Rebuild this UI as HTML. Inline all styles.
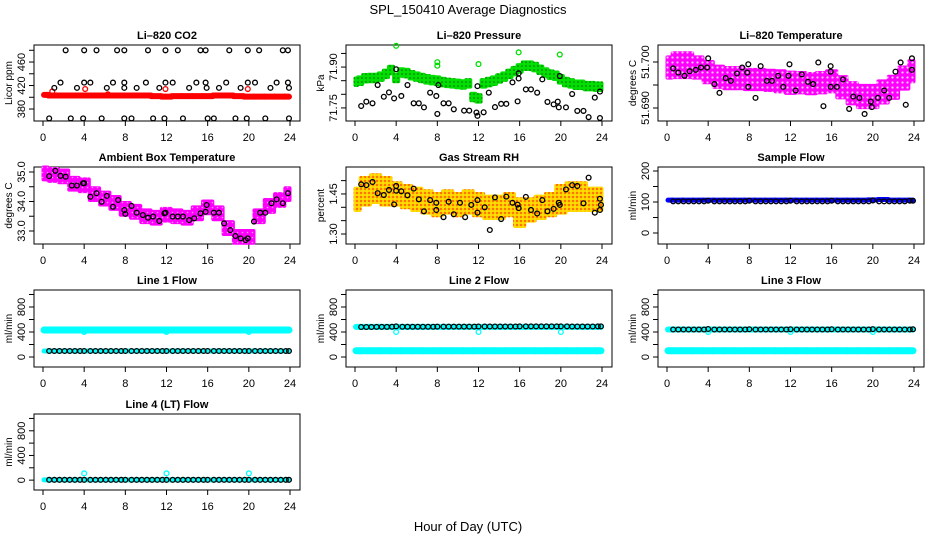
<!DOCTYPE html>
<html><head><meta charset="utf-8">
<style>
html,body{margin:0;padding:0;background:#fff;}
svg{display:block;font-family:"Liberation Sans",sans-serif;}
</style></head>
<body>
<svg id="chart" width="936" height="540" viewBox="0 0 936 540">
<defs>
<pattern id="patGreen" width="4" height="4" patternUnits="userSpaceOnUse"><rect width="4" height="4" fill="#00e000"/><circle cx="2" cy="2" r="0.8" fill="#006000"/></pattern>
<pattern id="patMag" width="5" height="5" patternUnits="userSpaceOnUse"><rect width="5" height="5" fill="#ff00ff"/><circle cx="2.5" cy="2.5" r="1.1" fill="#ffccff"/></pattern>
<pattern id="patMag2" width="5" height="5" patternUnits="userSpaceOnUse"><rect width="5" height="5" fill="#ff00ff"/><circle cx="2.5" cy="2.5" r="0.8" fill="#ff99ff"/></pattern>
<pattern id="patRH" width="4" height="4" patternUnits="userSpaceOnUse"><rect width="4" height="4" fill="#ffd000"/><circle cx="1" cy="1" r="0.9" fill="#ff3000"/><circle cx="3" cy="3" r="0.8" fill="#ffee00"/></pattern>
</defs>
<text x="468" y="14" text-anchor="middle" font-size="13">SPL_150410  Average Diagnostics</text>
<text x="468" y="531" text-anchor="middle" font-size="13">Hour of Day (UTC)</text>
</svg>
<script>
// ---------- data ----------
const xTicks = [0,4,8,12,16,20,24];
const halfHours = [0.6,1.1,1.6,2.1,2.6,3.1,3.6,4.0,4.6,5.1,5.6,6.1,6.6,7.1,7.6,8.0,8.6,9.1,9.6,10.1,10.6,11.1,11.6,12.0,12.6,13.1,13.6,14.1,14.6,15.1,15.6,16.0,16.6,17.1,17.6,18.1,18.6,19.1,19.6,20.0,20.6,21.1,21.6,22.1,22.6,23.1,23.6,23.9];
const hourly = [0,1,2,3,4,5,6,7,8,9,10,11,12,13,14,15,16,17,18,19,20,21,22,23,24];

const co2Hours = [2.2,4.0,5.2,7.2,7.9,10.2,11.9,13.1,15.3,15.8,18.1,19.9,21.0,23.3,23.8, 1.7,4.0,4.6,6.8,7.9,10.0,11.9,12.6,14.9,15.8,17.8,19.9,20.6,22.7,23.8, 1.1,3.3,6.2,7.9,9.1,11.3,14.2,15.9,17.1,19.2,22.1,23.9, 0.6,2.7,3.9,5.7,7.9,8.6,10.7,11.8,13.6,16.0,16.6,18.7,19.8,21.6,23.9];
const co2Values = [480,480,480,480,480,480,480,480,480,480,480,480,480,480,480, 425,425,425,425,425,425,425,425,425,425,425,425,425,425,425, 416,416,416,416,416,416,416,416,416,416,416,416, 364,364,364,364,364,364,364,364,364,364,364,364,364,364,364];
const co2Red = [404,403,403,403,403,403,403,403,403,403,403,402,401,402,402,402,402,403,403,402,401,401,401,401,401];
const co2RedSpikeH = [0.9,4.1,6.3,11.9,19.9];
const co2RedSpikeV = [410,414,405,414,414];

const presHours = [0.6,1.1,1.7,2.2,2.8,3.3,3.8,4.0,4.5,5.1,5.7,6.2,6.7,7.3,7.9,8.1,8.0,8.6,9.1,9.6,10.6,11.1,11.8,11.9,11.9,12.5,13.0,13.6,14.2,14.7,15.3,15.8,15.9,15.9,16.6,17.1,17.7,18.2,18.7,19.3,19.7,19.9,19.8,20.5,21.1,21.6,22.2,22.7,23.3,23.8,23.8];
const presValues = [71.757,71.773,71.767,71.834,71.791,71.807,71.785,71.892,71.794,71.834,71.767,71.767,71.752,71.806,71.794,71.834,71.728,71.767,71.767,71.745,71.740,71.740,71.733,71.721,71.830,71.734,71.806,71.753,71.765,71.765,71.844,71.774,71.858,71.877,71.818,71.818,71.806,71.855,71.772,71.763,71.773,71.867,71.752,71.752,71.801,71.739,71.739,71.716,71.788,71.810,71.713];
const presGreenH = [0,0.5,1,1.5,2,2.5,3,3.5,4,4.5,5,5.5,6,6.5,7,7.5,8,8.5,9,9.5,10,10.5,11,11.5,12,12.5,13,13.5,14,14.5,15,15.5,16,16.5,17,17.5,18,18.5,19,19.5,20,20.5,21,21.5,22,22.5,23,23.5,24];
const presGreen = [71.846,71.850,71.859,71.860,71.860,71.865,71.875,71.889,71.860,71.880,71.878,71.870,71.865,71.860,71.855,71.852,71.850,71.845,71.842,71.840,71.838,71.836,71.840,71.790,71.785,71.840,71.845,71.850,71.858,71.865,71.875,71.885,71.895,71.905,71.905,71.900,71.890,71.880,71.872,71.868,71.855,71.845,71.840,71.835,71.835,71.830,71.830,71.828,71.828];
const presGreenOutH = [4.0,8.0,8.0,12.0,15.9,19.9];
const presGreenOutV = [71.978,71.918,71.905,71.911,71.954,71.946];

const tempHours = [0.6,1.1,1.7,2.2,2.8,3.3,3.9,4.0,4.6,5.1,5.7,6.2,6.8,7.3,7.8,7.9,7.9,8.6,9.1,9.7,10.2,10.8,11.3,11.8,11.9,12.5,13.1,13.7,14.2,14.7,15.2,15.9,15.9,15.9,16.5,17.1,17.7,18.1,18.7,19.2,19.8,19.9,20.5,21.1,21.6,22.2,22.7,23.2,23.8,23.8];
const tempValues = [51.6986,51.6977,51.6970,51.6980,51.6983,51.6988,51.6988,51.7008,51.6952,51.6933,51.6965,51.6959,51.6975,51.6988,51.6977,51.6995,51.6946,51.6922,51.6991,51.6959,51.6959,51.6970,51.6946,51.6970,51.6995,51.6938,51.6973,51.6957,51.6952,51.6999,51.6904,51.6991,51.6979,51.6946,51.6946,51.6962,51.6898,51.6925,51.6922,51.6887,51.6914,51.6902,51.6922,51.6938,51.6922,51.6979,51.6999,51.6907,51.7008,51.6983];
const tempMag = [51.6988,51.6993,51.6993,51.6988,51.6978,51.6968,51.6965,51.6965,51.6962,51.6962,51.6960,51.6958,51.6955,51.6955,51.6953,51.6955,51.6958,51.6945,51.6932,51.6925,51.6925,51.6935,51.6945,51.6965,51.6980];
const tempSpread = [0.0022,0.0026,0.0026,0.0022,0.0022,0.0022,0.0022,0.0022,0.0021,0.0021,0.0021,0.0022,0.0022,0.0021,0.0021,0.0021,0.0022,0.0022,0.0022,0.0023,0.0023,0.0023,0.0023,0.0023,0.0022];

const ambHours = [0.6,1.2,1.7,2.2,2.8,3.3,3.9,4.0,4.6,5.2,5.7,6.2,6.8,7.3,7.9,8.0,8.6,9.1,9.7,10.2,10.7,11.3,11.8,11.9,12.6,13.1,13.6,14.2,14.7,15.3,15.8,15.9,16.6,17.1,17.6,18.2,18.7,19.2,19.7,19.9,20.5,21.1,21.6,22.2,22.7,23.3,23.8];
const ambValues = [34.86,35.04,34.87,34.84,34.54,34.54,34.62,34.62,34.16,34.28,33.99,34.19,33.82,34.05,33.71,33.58,33.85,33.62,33.54,33.45,33.49,33.34,33.60,33.62,33.49,33.49,33.49,33.37,33.43,33.60,33.65,33.88,33.62,33.62,33.26,33.03,32.83,32.75,32.69,32.75,33.32,33.62,33.62,33.94,34.07,33.94,34.28];
const ambMag = [34.95,34.90,34.85,34.60,34.55,34.25,34.10,33.95,33.75,33.65,33.50,33.45,33.55,33.50,33.45,33.60,33.80,33.60,33.10,32.80,32.80,33.50,33.85,34.05,34.25];

const rhHours = [0.6,1.1,1.7,2.2,2.8,3.3,3.8,4.0,4.0,4.5,5.1,5.7,6.2,6.7,7.3,7.9,7.9,8.6,9.1,9.6,10.2,10.7,11.3,11.9,11.9,12.6,13.1,13.6,14.2,14.7,15.3,15.8,15.9,16.6,17.1,17.7,18.2,18.7,19.3,19.8,19.9,20.5,21.1,21.6,22.2,22.7,23.3,23.8,23.8,23.9];
const rhValues = [1.486,1.483,1.495,1.453,1.446,1.465,1.411,1.480,1.462,1.460,1.445,1.470,1.430,1.385,1.427,1.417,1.390,1.363,1.421,1.374,1.417,1.363,1.409,1.427,1.380,1.400,1.315,1.437,1.356,1.440,1.417,1.410,1.397,1.439,1.390,1.377,1.427,1.385,1.394,1.417,1.409,1.467,1.483,1.480,1.415,1.511,1.380,1.432,1.390,1.409];
const rhBand = [1.43,1.46,1.47,1.46,1.45,1.44,1.43,1.42,1.41,1.42,1.41,1.42,1.41,1.40,1.40,1.41,1.38,1.39,1.40,1.41,1.43,1.44,1.44,1.43,1.43];
const rhSpread = [0.04,0.05,0.05,0.05,0.04,0.04,0.04,0.04,0.04,0.04,0.04,0.04,0.04,0.04,0.04,0.04,0.05,0.04,0.04,0.04,0.05,0.05,0.05,0.04,0.04];

const sampleBlue = [106,106,106,106,106,106,106,106,106,106,106,106,106,106,106,106,106,106,106,106,107,108,106,106,106];
const sampleBlack = [102,102,102,102,102,102,102,104,102,102,102,102,102,102,102,104,102,102,102,102,102,102,102,104,102,102,102,102,102,102,102,104,102,102,102,102,102,102,102,105,102,102,102,102,102,102,104,104];

const line1High = [432,432,432,432,432,432,432,432,432,432,432,432,432,432,432,432,432,432,432,432,432,432,432,432,432];
const line1Low = [96,96,96,96,96,96,96,96,96,96,96,96,96,96,96,96,96,96,96,96,96,96,96,96,96];
const line1Black = [96,96,96,96,96,96,96,96,96,96,96,96,96,96,96,96,96,96,96,96,96,96,96,96,96,96,96,96,96,96,96,96,96,96,96,96,96,96,96,96,96,96,96,96,96,96,96,96];
const line2High = [482,482,482,482,482,482,482,482,482,482,482,482,482,482,482,482,482,482,482,482,482,482,482,482,482];
const line2Low = [100,100,100,100,100,100,100,100,100,100,100,100,100,100,100,100,100,100,100,100,100,100,100,100,100];
const line2Black = [480,480,480,482,482,482,484,490,484,484,484,484,484,484,484,486,486,486,486,486,486,486,486,488,488,488,488,488,488,488,488,490,490,490,490,490,490,490,490,490,490,488,488,488,488,488,490,490];
const line3High = [440,440,440,440,440,440,440,440,440,440,440,440,440,440,440,440,440,440,440,440,440,440,440,440,440];
const line3Low = [100,100,100,100,100,100,100,100,100,100,100,100,100,100,100,100,100,100,100,100,100,100,100,100,100];
const line3Black = [440,440,440,440,440,440,440,448,440,440,440,440,440,440,440,444,440,440,440,440,440,440,440,444,440,440,440,440,440,440,440,444,440,440,440,440,440,440,440,446,440,440,440,440,440,440,440,444];
const line4Low = [5,5,5,5,5,5,5,5,5,5,5,5,5,5,5,5,5,5,5,5,5,5,5,5,5];
const line4Black = [5,5,5,5,5,5,5,5,5,5,5,5,5,5,5,5,5,5,5,5,5,5,5,5,5,5,5,5,5,5,5,5,5,5,5,5,5,5,5,5,5,5,5,5,5,5,5,5];
const dipHours = [4,12,20];
const dipLine = [400,400,400];
const dipLine4 = [110,110,110];

// ---------- drawing ----------
const svg = document.getElementById('chart');
const NS = 'http://www.w3.org/2000/svg';
function mk(tag, attrs, parent){
  const e = document.createElementNS(NS, tag);
  for (const k in attrs) e.setAttribute(k, attrs[k]);
  (parent||svg).appendChild(e);
  return e;
}
const cols = [[34,300],[346,612],[658,924]];
const rows = [[45,121],[167,244],[290,367],[414,490]];

function panel(c, r, o){
  const [L,R] = cols[c], [T,B] = rows[r];
  const g = mk('g', {});
  
  
  const xs = h => L + 9 + h * (R - L - 19) / 24;
  const ys = v => B - (v - o.ymin) * (B - T) / (o.ymax - o.ymin);
  const t = mk('text', {x:(L+R)/2, y:T-6, 'text-anchor':'middle', 'font-size':11, 'font-weight':'bold'}, g);
  t.textContent = o.title;
  
  
  const box = mk('rect', {x:L, y:T, width:R-L, height:B-T, fill:'none', stroke:'#000', 'stroke-width':1}, g);
  
  
  const xa = mk('g', {}, g);
  
  
  mk('line', {x1:xs(0), x2:xs(24), y1:B, y2:B, stroke:'#000'}, xa);
  xTicks.forEach(h => {
    mk('line', {x1:xs(h), x2:xs(h), y1:B, y2:B+5, stroke:'#000'}, xa);
    const tl = mk('text', {x:xs(h), y:B+20, 'text-anchor':'middle', 'font-size':11}, xa);
    tl.textContent = h;
    
    
  });
  const ya = mk('g', {}, g);
  
  
  mk('line', {x1:L, x2:L, y1:ys(o.ticks[0]), y2:ys(o.ticks[o.ticks.length-1]), stroke:'#000'}, ya);
  o.ticks.forEach(v => mk('line', {x1:L-5, x2:L, y1:ys(v), y2:ys(v), stroke:'#000'}, ya));
  o.labels.forEach(v => {
    const yl = mk('text', {x:0, y:0, 'text-anchor':'middle', 'font-size':11, transform:`translate(${L-9},${ys(v)}) rotate(-90)`}, ya);
    yl.textContent = o.fmt ? o.fmt(v) : v;
    
    
  });
  const yt = mk('text', {x:0, y:0, 'text-anchor':'middle', 'font-size':10, transform:`translate(${L-22},${(T+B)/2}) rotate(-90)`}, g);
  yt.textContent = o.ylab;
  
  
  const clip = 'clip' + c + r;
  const cp = mk('clipPath', {id:clip}, g);
  mk('rect', {x:L, y:T-4, width:R-L, height:B-T+8}, cp);
  const d = mk('g', {'clip-path':`url(#${clip})`}, g);
  
  
  return {g:d, xs, ys};
}
function pts(p, hs, vs, color, name, r, sw){
  hs.forEach((h,i) => {
    const e = mk('circle', {cx:p.xs(h), cy:p.ys(vs[i]), r:r||2.4, fill:'none', stroke:color, 'stroke-width':sw||1.3}, p.g);
    
    
  });
}
function band(p, hs, centers, spreads, step, fill, name){
  centers.forEach((v,i) => {
    const sp = Array.isArray(spreads) ? spreads[i] : spreads;
    const h0 = Math.max(0, hs[i]-step/2), h1 = Math.min(24, hs[i]+step/2);
    const e = mk('rect', {x:p.xs(h0)-1.5, y:p.ys(v+sp)-2, width:p.xs(h1)-p.xs(h0)+3, height:p.ys(v-sp)-p.ys(v+sp)+4, rx:2, fill:fill}, p.g);
    
    
  });
}
function thick(p, hs, vs, color, w, name){
  vs.forEach((v,i) => {
    const h0 = Math.max(0.1, hs[i]-0.5), h1 = Math.min(23.9, hs[i]+0.5);
    const e = mk('line', {x1:p.xs(h0), x2:p.xs(h1), y1:p.ys(v), y2:p.ys(v), stroke:color, 'stroke-width':w, 'stroke-linecap':'round'}, p.g);
    
    
  });
}
const lineTicks = [0,200,400,600,800,1000];
const lineLabels = [0,400,800];

let p = panel(0,0,{name:'co2-panel', title:'Li\u2013820 CO2', ylab:'Licor ppm', ymin:359.6, ymax:489, ticks:[380,400,420,440,460,480], labels:[380,420,460]});
thick(p, hourly, co2Red, '#ff0000', 6, 'co2-red-series');
pts(p, co2RedSpikeH, co2RedSpikeV, '#ff0000', 'co2-red-point');
pts(p, co2Hours, co2Values, '#000', 'co2-black-point');

p = panel(1,0,{name:'pressure-panel', title:'Li\u2013820 Pressure', ylab:'kPa', ymin:71.702, ymax:71.981, ticks:[71.75,71.80,71.85,71.90,71.95], labels:[71.75,71.90], fmt:v=>v.toFixed(2)});
band(p, presGreenH, presGreen, 0.012, 0.5, 'url(#patGreen)', 'pressure-green-band');
pts(p, presGreenOutH, presGreenOutV, '#00dd00', 'pressure-green-point');
pts(p, presHours, presValues, '#000', 'pressure-black-point');

p = panel(2,0,{name:'li820-temperature-panel', title:'Li\u2013820 Temperature', ylab:'degrees C', ymin:51.68717, ymax:51.7037, ticks:[51.690,51.695,51.700], labels:[51.690,51.700], fmt:v=>v.toFixed(3)});
band(p, hourly, tempMag, tempSpread, 1, 'url(#patMag)', 'temperature-magenta-band');
pts(p, tempHours, tempValues, '#000', 'temperature-black-point');

p = panel(0,1,{name:'ambient-box-temperature-panel', title:'Ambient Box Temperature', ylab:'degrees C', ymin:32.559, ymax:35.169, ticks:[33,33.5,34,34.5,35], labels:[33,34,35], fmt:v=>v.toFixed(1)});
band(p, hourly, ambMag, 0.2, 1, 'url(#patMag2)', 'ambient-magenta-band');
pts(p, ambHours, ambValues, '#000', 'ambient-black-point');

p = panel(1,1,{name:'gas-stream-rh-panel', title:'Gas Stream RH', ylab:'percent', ymin:1.2625, ymax:1.551, ticks:[1.30,1.35,1.40,1.45,1.50], labels:[1.30,1.45], fmt:v=>v.toFixed(2)});
band(p, hourly, rhBand, rhSpread, 1, 'url(#patRH)', 'rh-orange-band');
pts(p, rhHours, rhValues, '#000', 'rh-black-point');

p = panel(2,1,{name:'sample-flow-panel', title:'Sample Flow', ylab:'ml/min', ymin:-35.5, ymax:212.9, ticks:[0,50,100,150,200], labels:[0,100,200]});
thick(p, hourly, sampleBlue, '#0000ff', 5, 'sample-blue-series');
pts(p, halfHours, sampleBlack, '#000', 'sample-black-point');

p = panel(0,2,{name:'line1-flow-panel', title:'Line 1 Flow', ylab:'ml/min', ymin:-160, ymax:1072, ticks:lineTicks, labels:lineLabels});
thick(p, hourly, line1High, '#00ffff', 7, 'line1-cyan-high');
thick(p, hourly, line1Low, '#00ffff', 5, 'line1-cyan-low');
pts(p, dipHours, dipLine, '#00ffff', 'line1-cyan-dip');
pts(p, halfHours, line1Black, '#000', 'line1-black-point');

p = panel(1,2,{name:'line2-flow-panel', title:'Line 2 Flow', ylab:'ml/min', ymin:-160, ymax:1072, ticks:lineTicks, labels:lineLabels});
thick(p, hourly, line2High, '#00ffff', 6, 'line2-cyan-high');
thick(p, hourly, line2Low, '#00ffff', 7, 'line2-cyan-low');
pts(p, dipHours, dipLine, '#00ffff', 'line2-cyan-dip');
pts(p, halfHours, line2Black, '#000', 'line2-black-point');

p = panel(2,2,{name:'line3-flow-panel', title:'Line 3 Flow', ylab:'ml/min', ymin:-160, ymax:1072, ticks:lineTicks, labels:lineLabels});
thick(p, hourly, line3High, '#00ffff', 6, 'line3-cyan-high');
thick(p, hourly, line3Low, '#00ffff', 7, 'line3-cyan-low');
pts(p, dipHours, dipLine, '#00ffff', 'line3-cyan-dip');
pts(p, halfHours, line3Black, '#000', 'line3-black-point');

p = panel(0,3,{name:'line4-flow-panel', title:'Line 4 (LT) Flow', ylab:'ml/min', ymin:-160, ymax:1072, ticks:lineTicks, labels:lineLabels});
thick(p, hourly, line4Low, '#00ffff', 5, 'line4-cyan-low');
pts(p, dipHours, dipLine4, '#00ffff', 'line4-cyan-spike');
pts(p, halfHours, line4Black, '#000', 'line4-black-point');
</script>
</body></html>
